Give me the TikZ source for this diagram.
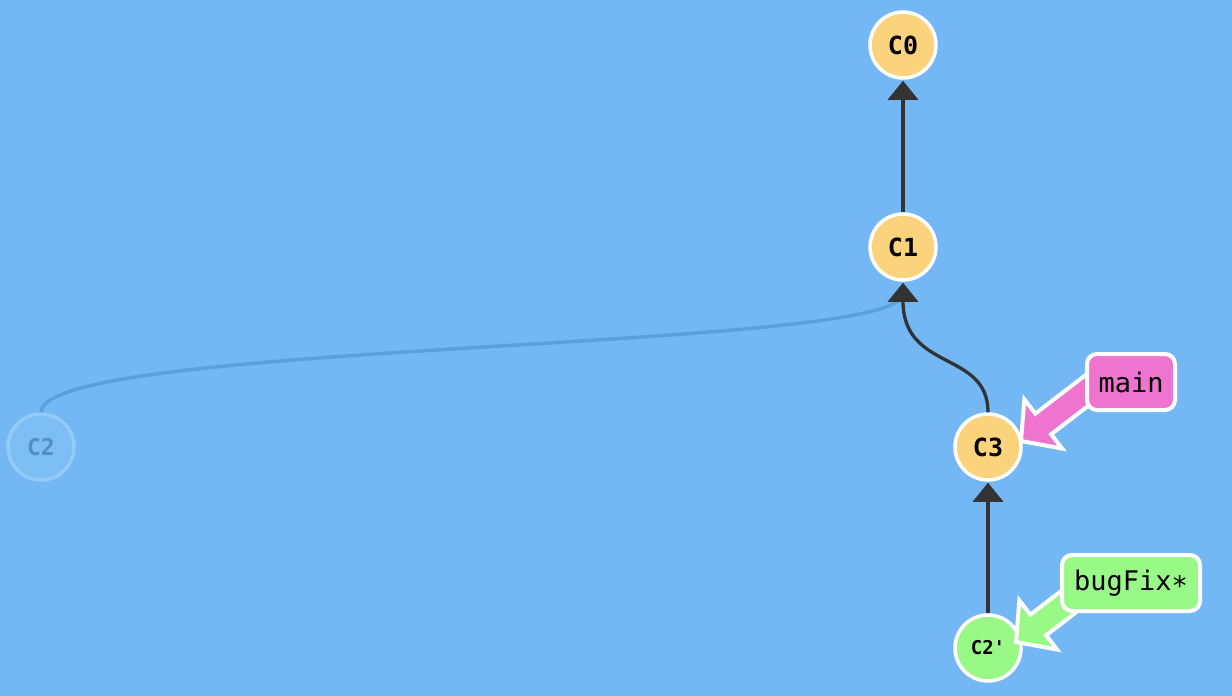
\documentclass[tikz,border=0pt]{standalone}
\usepackage{fontspec}
\setmonofont{DejaVu Sans Mono}
\usetikzlibrary{arrows.meta}
\definecolor{bg}{RGB}{115,184,245}
\definecolor{commit}{RGB}{250,211,124}
\definecolor{newcommit}{RGB}{153,249,134}
\definecolor{pinkbranch}{RGB}{238,116,207}
\definecolor{ink}{RGB}{51,51,51}
\definecolor{ghostfill}{RGB}{124,190,244}
\definecolor{ghostring}{RGB}{147,203,248}
\definecolor{ghosttext}{RGB}{82,141,198}
\definecolor{ghostedge}{RGB}{92,160,218}
\tikzset{
  commitnode/.style={circle, draw=white, line width=3.5pt, minimum size=66pt, inner sep=0pt,
    font=\ttfamily\bfseries\fontsize{25}{25}\selectfont, text=black},
  ghostnode/.style={circle, draw=ghostring, line width=3.5pt, minimum size=66pt, inner sep=0pt,
    fill=ghostfill, font=\ttfamily\bfseries\fontsize{23}{23}\selectfont, text=ghosttext},
  parentedge/.style={draw=ink, line width=3.3pt, -{Triangle[width=30pt,length=19pt]}},
  ghostline/.style={draw=ghostedge, line width=3.5pt},
  branchbox/.style={rectangle, rounded corners=10pt, draw=white, line width=4pt,
    minimum height=56pt, inner sep=0pt, font=\ttfamily\fontsize{27}{27}\selectfont, text=black},
  branchpointer/.style={draw=white, line width=4pt, line join=miter},
  pointershape/.pic={
    \path[pic actions] (0,0) -- (28,31) -- (28,13) -- (100,13) -- (100,-13) -- (28,-13) -- (28,-31) -- cycle;
  },
}
\begin{document}
\begin{tikzpicture}[x=1pt, y=-1pt]
  \fill[bg] (0,0) rectangle (1232,696);
  \useasboundingbox (0,0) rectangle (1232,696);

  % commits
  \node[commitnode, fill=commit] (C0) at (903,45) {C0};
  \node[commitnode, fill=commit] (C1) at (903,247) {C1};
  \node[ghostnode] (C2) at (41,447) {C2};
  \node[commitnode, fill=commit] (C3) at (988,447) {C3};
  \node[commitnode, fill=newcommit, font=\ttfamily\bfseries\fontsize{19}{19}\selectfont] (C2p) at (988,648) {C2'};

  % parent links
  \path[ghostline] (C2.north) .. controls (41,340) and (903,352) .. ([yshift=-12pt]C1.south);
  \path[parentedge] (C1.north) -- ([yshift=-1pt]C0.south);
  \path[parentedge] (C3.north) .. controls (988,350) and (903,372) .. ([yshift=-1pt]C1.south);
  \path[parentedge] (C2p.north) -- ([yshift=-1pt]C3.south);

  % branch pointers
  \pic[fill=pinkbranch, branchpointer, rotate=37.5] at (1021,441) {pointershape};
  \node[branchbox, fill=pinkbranch, minimum width=88pt] (main) at (1131,382) {main};

  \pic[fill=newcommit, branchpointer, rotate=37.5] at (1016,642) {pointershape};
  \node[branchbox, fill=newcommit, minimum width=138pt] (bugFix) at (1131,583) {bugFix\raisebox{-0.18em}{*}};
\end{tikzpicture}
\end{document}
